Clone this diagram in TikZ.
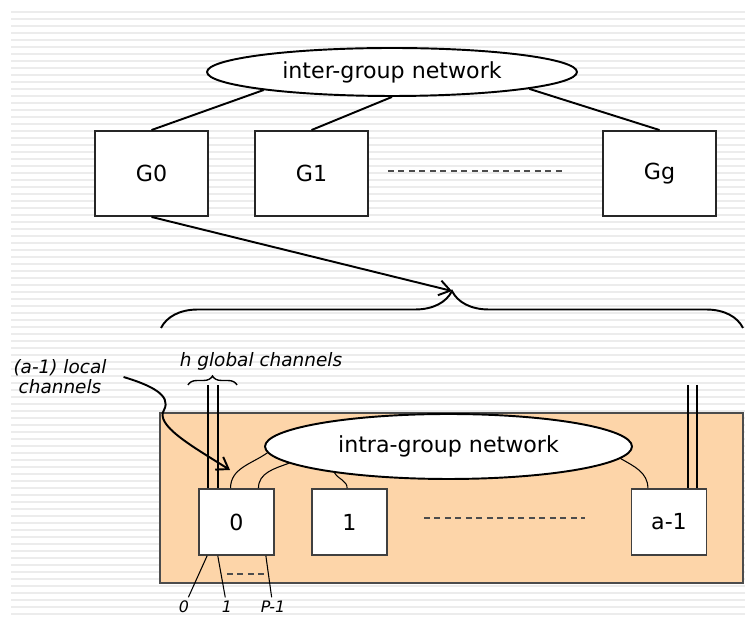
\documentclass[tikz,border=0pt]{standalone}
\usepackage{fontspec}
\setmainfont{DejaVu Sans}
\usetikzlibrary{shapes.geometric,arrows.meta,decorations.pathreplacing}
\definecolor{grpfill}{HTML}{FDD5A9}
\definecolor{bgline}{HTML}{ECECEC}

\begin{document}
\begin{tikzpicture}[x=0.02cm, y=-0.02cm, >={Straight Barb[length=2.2mm, width=3mm]}]
    % Стилі
    \tikzstyle{grp} = [rectangle, draw=black!85, line width=1.1pt, fill=white, minimum width=2.26cm, minimum height=1.7cm, inner sep=0pt, font=\fontsize{12.6}{15}\selectfont]
    \tikzstyle{rtr} = [rectangle, draw=black!75, line width=0.9pt, fill=white, minimum width=1.5cm, minimum height=1.32cm, inner sep=0pt, font=\fontsize{12.6}{15}\selectfont]
    \tikzstyle{net} = [ellipse, draw, line width=1.1pt, fill=white, inner sep=0pt, font=\fontsize{12.6}{15}\selectfont]
    \tikzstyle{lbl} = [inner sep=1pt, font=\fontsize{10.5}{11.5}\selectfont\itshape]
    \tikzstyle{port} = [inner sep=1pt, font=\fontsize{9}{10}\selectfont\itshape]
    \tikzstyle{link} = [line width=1.1pt]
    \tikzstyle{chan} = [line width=0.6pt]
    \tikzstyle{gapline} = [line width=0.7pt, black!70, dash pattern=on 0.12cm off 0.09cm]

    % Фон у смужку
    \useasboundingbox (0,0) rectangle (745,617);
    \fill[white] (0,0) rectangle (745,617);
    \foreach \y in {12,19,...,614}
        \draw[bgline, line width=1.1pt] (11,\y) -- (745,\y);

    % Групи
    \node[net, minimum width=7.4cm, minimum height=0.96cm] (inter) at (392,72) {inter-group network};
    \node[grp] (g0) at (151.5,173.5) {G0};
    \node[grp] (g1) at (311.5,173.5) {G1};
    \node[grp] (gg) at (659.5,173.5) {Gg};

    % Одна група зсередини
    \draw[fill=grpfill, draw=black!70, line width=0.8pt] (160,413) rectangle (743,583);
    \node[net, minimum width=7.34cm, minimum height=1.3cm] (intra) at (448.5,446.5) {intra-group network};
    \node[rtr] (r0) at (236.5,522) {0};
    \node[rtr] (r1) at (349.5,522) {1};
    \node[rtr] (ra) at (669,522) {a-1};

    % Підписи
    \node[lbl] (hlab) at (261,361) {h global channels};
    \node[lbl, align=center] (loc) at (60,377) {(a-1) local\\channels};
    \node[port] (p0) at (184,607) {0};
    \node[port] (p1) at (227,607) {1};
    \node[port] (pp) at (273,607) {P-1};

    \coordinate (brl) at (161,328);
    \coordinate (brr) at (743,328);
    \coordinate (brtip) at (452,291);
    \coordinate (lctip) at (230,470);
    \coordinate (ha) at (208,385);
    \coordinate (hb) at (218,385);
    \coordinate (hc) at (688,385);
    \coordinate (hd) at (697,385);

    % Лінії між групами
    \draw[link] (inter.188) -- (g0.north);
    \draw[link] (inter.270) -- (g1.north);
    \draw[link] (inter.353) -- (gg.north);
    \draw[gapline] (388,171) -- (565,171);

    \draw[link, ->] (g0.south) -- (brtip);
    \draw[link, decorate, decoration={brace, amplitude=0.74cm}] (brl) -- (brr);

    % Глобальні канали
    \draw[chan] (ha) -- (ha |- r0.north);
    \draw[chan] (hb) -- (hb |- r0.north);
    \draw[chan] (hc) -- (hc |- ra.north);
    \draw[chan] (hd) -- (hd |- ra.north);
    \draw[line width=0.8pt, decorate, decoration={brace, amplitude=0.18cm}] (188,385) -- (237,385);

    % Локальні канали
    \draw[chan] (r0.100) to[out=90, in=215] (intra.182);
    \draw[chan] (r0.57) to[out=90, in=200] (intra.186);
    \draw[chan] (r1.94) to[out=90, in=300] (intra.193);
    \draw[chan] (ra.122) to[out=90, in=330] (intra.356);
    \draw[gapline] (424,518) -- (585,518);

    \draw[link, ->] ([xshift=0.3cm]loc.east) .. controls (150,385) and (172,395) .. (164,410)
        .. controls (155,425) and (190,445) .. (lctip);

    % Порти
    \draw[chan, shorten >=1pt] (r0.229) -- (p0);
    \draw[chan, shorten >=1pt] (r0.241) -- (p1);
    \draw[chan, shorten >=1pt] (r0.311) -- (pp);
    \draw[gapline] (227,574) -- (265,574);
\end{tikzpicture}
\end{document}
